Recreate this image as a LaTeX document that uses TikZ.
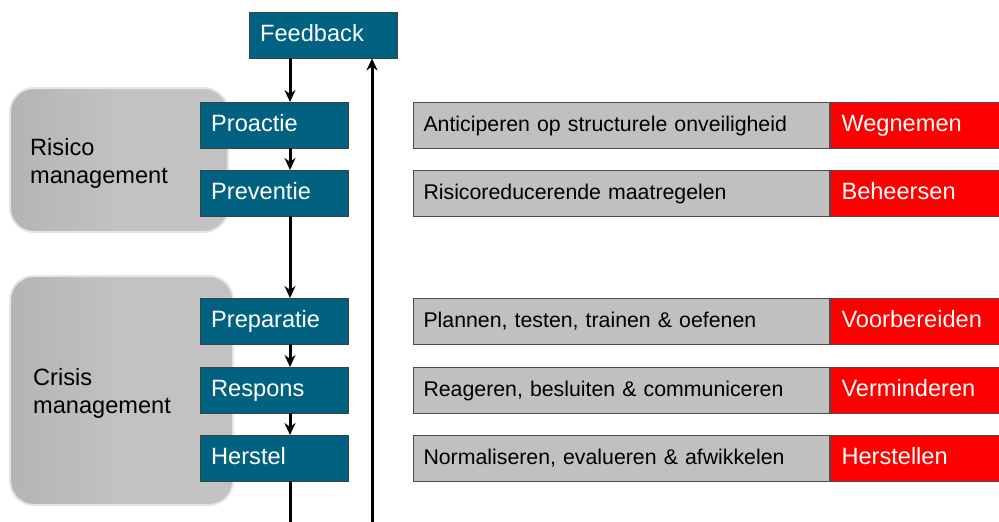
\documentclass[tikz,border=0pt]{standalone}
\usepackage{fontspec}
\setmainfont{Liberation Sans}
\usetikzlibrary{arrows.meta,positioning}

\definecolor{phaseteal}{RGB}{0,98,128}
\definecolor{taskgray}{RGB}{192,192,192}
\definecolor{blockgray}{RGB}{194,194,194}
\definecolor{blockedge}{RGB}{180,180,180}
\definecolor{actionred}{RGB}{255,0,0}

\begin{document}
\begin{tikzpicture}[x=1pt, y=-1pt, >={Stealth[length=12pt,width=11pt]},
    every node/.style={font=\fontsize{23.6}{28}\selectfont},
    phase/.style={draw=black!75, fill=phaseteal, text=white, anchor=north west,
      text width=126pt, inner xsep=11pt, inner ysep=0pt, minimum height=46pt,
      text height=17pt, text depth=5pt, align=left},
    task/.style={draw=black!70, line width=1pt, fill=taskgray, anchor=north west,
      text width=396pt, inner xsep=10pt, inner ysep=0pt, minimum height=46pt,
      text height=18pt, text depth=7pt, align=left, font=\fontsize{21.3}{26}\selectfont},
    action/.style={draw=black!70, line width=1pt, fill=actionred, text=white,
      text width=150pt, inner xsep=11pt, inner ysep=0pt, minimum height=46pt,
      text height=18pt, text depth=6pt, align=left},
    block/.style={rounded corners=24pt, draw=white!80!gray, line width=2pt,
      left color=blockedge, right color=blockgray, middle color=blockgray},
    flow/.style={line width=3pt, ->}]
    \useasboundingbox (0,0) rectangle (999,522);

    % Grey blocks behind the phases
    \path[block] (10,88) rectangle (228,232);
    \path[block] (10,276) rectangle (233,505);
    \node[anchor=west, align=left, inner sep=0pt] (risico) at (30,163) {Risico\\management};
    \node[anchor=west, align=left, inner sep=0pt] (crisis) at (33,393) {Crisis\\management};

    % Phases of the chain
    \node[phase] (feedback) at (249,12) {Feedback};
    \node[phase] (proactie) at (200,102) {Proactie};
    \node[phase] (preventie) at (200,170) {Preventie};
    \node[phase] (preparatie) at (200,298) {Preparatie};
    \node[phase] (respons) at (200,367) {Respons};
    \node[phase] (herstel) at (200,435) {Herstel};

    % Chain arrows
    \coordinate (spine) at (290,522);
    \coordinate (loopback) at (372,522);
    \draw[flow] (feedback.south -| spine) -- (proactie.north -| spine);
    \draw[flow] (proactie.south -| spine) -- (preventie.north -| spine);
    \draw[flow] (preventie.south -| spine) -- (preparatie.north -| spine);
    \draw[flow] (preparatie.south -| spine) -- (respons.north -| spine);
    \draw[flow] (respons.south -| spine) -- (herstel.north -| spine);
    \draw[line width=3pt] (herstel.south -| spine) -- (spine);
    % Feedback loop
    \draw[flow] (loopback) -- (loopback |- feedback.south);

    % Tasks and goals per phase
    \node[task] (anticiperen) at (413,102) {Anticiperen op structurele onveiligheid};
    \node[action, right=0pt of anticiperen] (wegnemen) {Wegnemen};
    \node[task] (risicoreducerend) at (413,170) {Risicoreducerende maatregelen};
    \node[action, right=0pt of risicoreducerend] (beheersen) {Beheersen};
    \node[task] (plannen) at (413,298) {Plannen, testen, trainen \& oefenen};
    \node[action, right=0pt of plannen] (voorbereiden) {Voorbereiden};
    \node[task] (reageren) at (413,367) {Reageren, besluiten \& communiceren};
    \node[action, right=0pt of reageren] (verminderen) {Verminderen};
    \node[task] (normaliseren) at (413,435) {Normaliseren, evalueren \& afwikkelen};
    \node[action, right=0pt of normaliseren] (herstellen) {Herstellen};
\end{tikzpicture}
\end{document}
